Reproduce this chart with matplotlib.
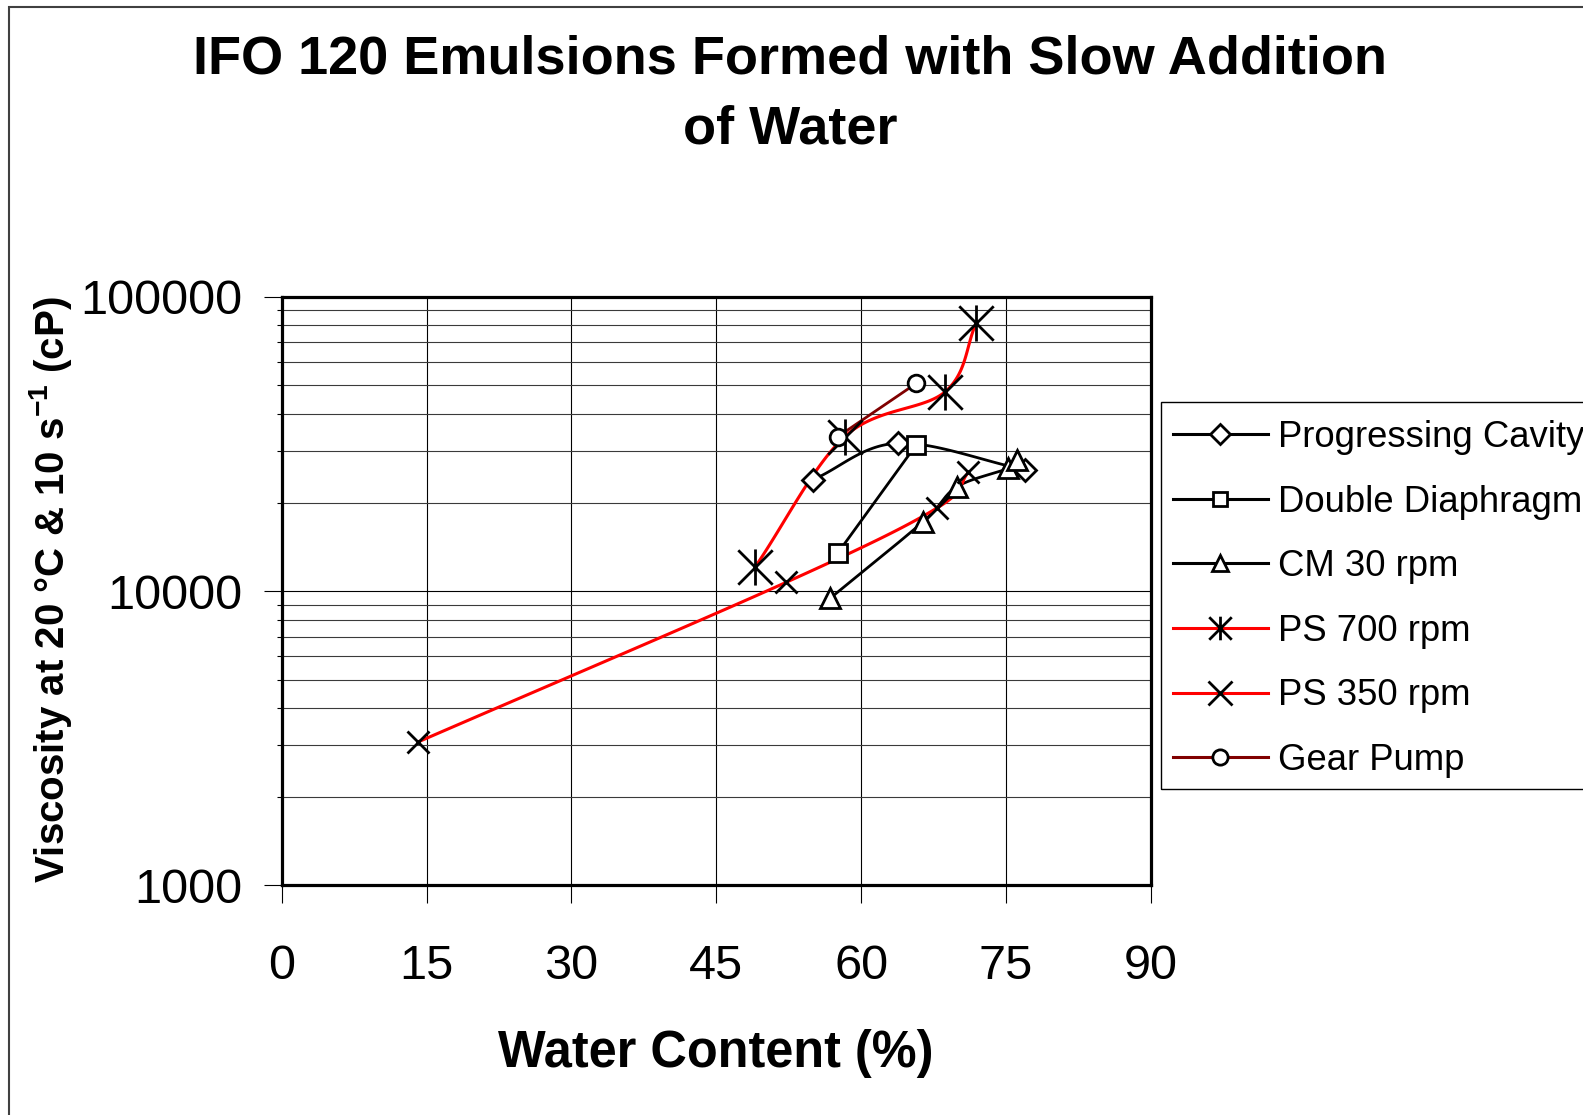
import numpy as np
import matplotlib
matplotlib.use("Agg")
import matplotlib.pyplot as plt
from matplotlib.lines import Line2D
from matplotlib.path import Path
from matplotlib.patches import Rectangle

plt.rcParams["font.family"] = ["Liberation Sans", "DejaVu Sans"]
plt.rcParams["mathtext.fontset"] = "custom"
plt.rcParams["mathtext.rm"] = "Liberation Sans:bold"
plt.rcParams["mathtext.default"] = "rm"

# Water content (%) and viscosity (cP) for each mixing device
pc_water = [55.0, 63.8, 77.0]
pc_visc = [23900, 31800, 25800]

dd_water = [57.6, 65.7]
dd_visc = [13500, 31400]

cm_water = [56.8, 66.4, 69.9, 75.2, 76.1]
cm_visc = [9460, 17200, 22600, 26100, 27900]

ps700_water = [49.0, 58.3, 68.7, 71.9]
ps700_visc = [12050, 33500, 47600, 81300]

ps350_water = [14.1, 52.2, 67.9, 71.1]
ps350_visc = [3070, 10700, 19200, 25300]

gear_water = [57.6, 65.7]
gear_visc = [33500, 50800]

labels = ["Progressing Cavity", "Double Diaphragm", "CM 30 rpm",
          "PS 700 rpm", "PS 350 rpm", "Gear Pump"]

x_ticks = [0, 15, 30, 45, 60, 75, 90]
y_ticks = [1000, 10000, 100000]

# asterisk marker: an x with a vertical bar
ast_path = Path([(-1, -1), (1, 1), (-1, 1), (1, -1), (0, -1.05), (0, 1.05)],
                [Path.MOVETO, Path.LINETO, Path.MOVETO, Path.LINETO,
                 Path.MOVETO, Path.LINETO])


def smooth_curve(x, y, n=40):
    """Spreadsheet-style smoothed line through points (x linear, y log)."""
    P = np.column_stack([np.asarray(x, float), np.log10(np.asarray(y, float))])
    k = len(P)
    if k < 2:
        return P[:, 0], 10 ** P[:, 1]
    m = np.zeros_like(P)
    m[0] = P[1] - P[0]
    m[-1] = P[-1] - P[-2]
    for i in range(1, k - 1):
        m[i] = (P[i + 1] - P[i - 1]) / 2
    t = np.linspace(0, 1, n)[:, None]
    h00 = 2 * t**3 - 3 * t**2 + 1
    h10 = t**3 - 2 * t**2 + t
    h01 = -2 * t**3 + 3 * t**2
    h11 = t**3 - t**2
    segs = []
    for i in range(k - 1):
        seg = h00 * P[i] + h10 * m[i] + h01 * P[i + 1] + h11 * m[i + 1]
        segs.append(seg if i == 0 else seg[1:])
    C = np.vstack(segs)
    return C[:, 0], 10 ** C[:, 1]


W, H = 1583, 1115
fig = plt.figure(figsize=(W / 100, H / 100), dpi=100)

# outer chart border
fig.patches.append(Rectangle((8.5 / W, 1 - 1200 / H), 1700 / W, (1200 - 6.5) / H,
                             transform=fig.transFigure, fill=False,
                             edgecolor="#404040", linewidth=1.5))

ax = fig.add_axes([281.7 / W, 1 - 885.4 / H, (1150.9 - 281.7) / W, (885.4 - 296.8) / H])
ax.set_yscale("log")
ax.set_xlim(0, 90)
ax.set_ylim(1000, 100000)

ax.set_xticks(x_ticks)
ax.set_xticklabels([str(v) for v in x_ticks])
ax.set_yticks(y_ticks)
ax.set_yticklabels([str(v) for v in y_ticks])
ax.yaxis.set_minor_locator(matplotlib.ticker.LogLocator(base=10, subs=np.arange(2, 10)))
ax.yaxis.set_minor_formatter(matplotlib.ticker.NullFormatter())

ax.grid(True, which="major", axis="both", color="black", linewidth=0.8)
ax.grid(True, which="minor", axis="y", color="#3a3a3a", linewidth=0.8)
ax.set_axisbelow(True)

ax.tick_params(axis="x", which="major", direction="out", length=13, width=0.8,
               pad=29, labelsize=35)
ax.tick_params(axis="y", which="major", direction="out", length=13, width=0.8,
               pad=15, labelsize=35)
ax.tick_params(axis="y", which="minor", direction="out", length=3.5, width=0.8)
for s in ax.spines.values():
    s.set_linewidth(2.3)
    s.set_color("black")

series = [
    (pc_water, pc_visc, "black", "D", 11, 2.0),
    (dd_water, dd_visc, "black", "s", 13, 2.0),
    (cm_water, cm_visc, "black", "^", 15, 2.0),
    (ps700_water, ps700_visc, "#ff0000", ast_path, 26, 2.2),
    (ps350_water, ps350_visc, "#ff0000", "x", 16.5, 2.2),
    (gear_water, gear_visc, "#800000", "o", 12, 2.0),
]

for i, (xv, yv, col, mk, ms, lw) in enumerate(series):
    sx, sy = smooth_curve(xv, yv)
    ax.plot(sx, sy, color=col, linewidth=lw, zorder=3 + i * 0.1, solid_capstyle="round")

for i, (xv, yv, col, mk, ms, lw) in enumerate(series):
    filled = mk in ("D", "s", "^", "o")
    ax.plot(xv, yv, linestyle="none", marker=mk, markersize=ms,
            markeredgecolor="black", markeredgewidth=2.0,
            markerfacecolor="white" if filled else "none", zorder=5 + i * 0.1)

# legend
legend_ms = [10, 10, 12, 17, 17, 11]
handles = []
for (xv, yv, col, mk, ms, lw), lms in zip(series, legend_ms):
    filled = mk in ("D", "s", "^", "o")
    handles.append(Line2D([], [], color=col, linewidth=2.2, marker=mk, markersize=lms,
                          markeredgecolor="black", markeredgewidth=2.0,
                          markerfacecolor="white" if filled else "none"))
leg = fig.legend(handles, labels, loc="upper left",
                 bbox_to_anchor=(1173 / W, 1 - 420 / H), bbox_transform=fig.transFigure,
                 frameon=False, fontsize=26.3, handlelength=2.6, handletextpad=0.28,
                 labelspacing=0.81, borderpad=0, borderaxespad=0)

fig.patches.append(Rectangle((1161 / W, 1 - 789 / H), 600 / W, (789 - 402) / H,
                             transform=fig.transFigure, fill=False,
                             edgecolor="black", linewidth=1.0))

# titles and axis labels
fig.text(790 / W, 1 - 60 / H, "IFO 120 Emulsions Formed with Slow Addition",
         ha="center", va="center", fontsize=39, fontweight="bold")
fig.text(790 / W, 1 - 130 / H, "of Water",
         ha="center", va="center", fontsize=39, fontweight="bold")
fig.text(716 / W, 1 - 1053 / H, "Water Content (%)",
         ha="center", va="center", fontsize=36.4, fontweight="bold")
fig.text(50.5 / W, 1 - 590 / H, "Viscosity at 20 \u00b0C & 10 s$^{-1}$ (cP)",
         ha="center", va="center", rotation=90, fontsize=29, fontweight="bold")

fig.savefig("out.png", dpi=100)
